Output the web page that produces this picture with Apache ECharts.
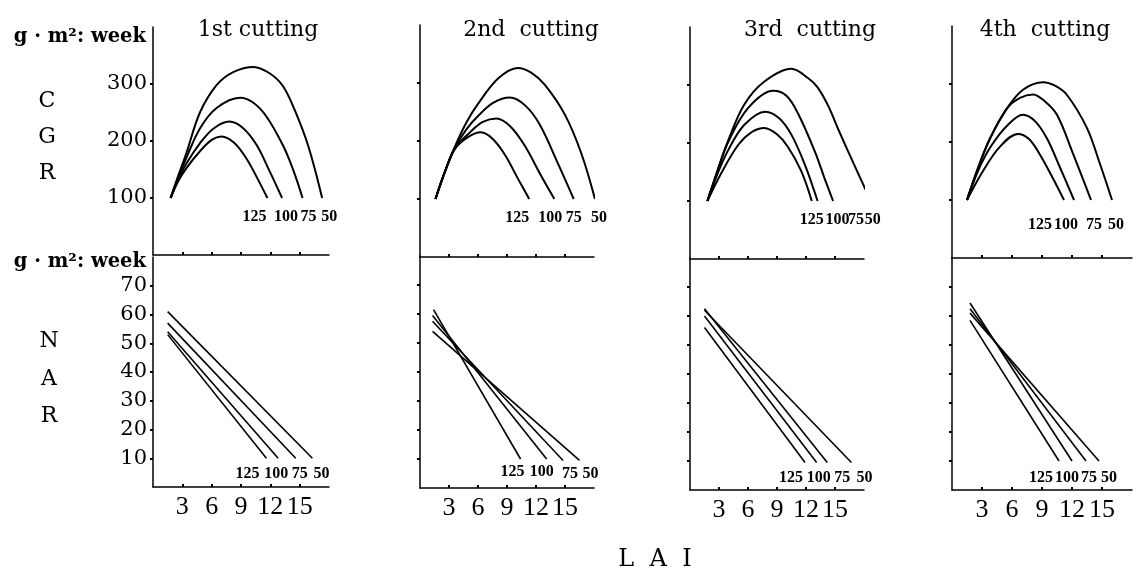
<!DOCTYPE html>
<html>
<head>
<meta charset="utf-8">
<title>CGR and NAR vs LAI</title>
<script src="https://cdn.jsdelivr.net/npm/echarts@6/dist/echarts.min.js"></script>
<style>body{margin:0;background:#fff}</style>
</head>
<body>
<div id="main" style="width:1138px;height:570px;"></div>
<script>
// nitrogen rates, order of the curves in every set below
var rates = ['125', '100', '75', '50'];
var cuttings = ['1st cutting', '2nd  cutting', '3rd  cutting', '4th  cutting'];
var laiTicks = [3, 6, 9, 12, 15];
var cgrTicks = [100, 200, 300];
var narTicks = [10, 20, 30, 40, 50, 60, 70];

// CGR curves [LAI, CGR] per cutting (125, 100, 75, 50)
var cgr1 = [
  [[1.8,100],[2.6,130],[3.4,152],[4.8,182],[6.0,202],[7.0,208],[8.3,197],[9.6,168],[10.9,127],[11.7,100]],
  [[1.8,100],[2.6,133],[3.4,160],[4.8,196],[6.2,222],[7.8,234],[9.2,223],[10.6,193],[11.9,148],[13.2,100]],
  [[1.8,100],[2.6,137],[3.4,170],[4.8,222],[6.5,258],[8.9,276],[10.2,268],[11.6,243],[13.3,192],[14.3,151],[15.3,100]],
  [[1.8,100],[2.6,140],[3.4,178],[4.8,250],[6.5,298],[8.2,321],[10.3,330],[12.0,318],[13.3,296],[14.5,254],[15.9,190],[17.3,100]]
];
var cgr2 = [
  [[1.6,100],[2.6,148],[3.6,186],[5.0,207],[6.3,215],[7.5,204],[8.8,176],[10.1,136],[11.3,100]],
  [[1.6,100],[2.6,148],[3.6,187],[5.3,217],[6.5,233],[7.9,239],[9.3,226],[10.8,193],[12.5,141],[13.9,100]],
  [[1.6,100],[2.6,148],[3.6,188],[4.8,220],[6.0,243],[7.6,266],[9.3,275],[10.9,261],[12.4,228],[14.3,160],[15.9,100]],
  [[1.6,100],[2.6,148],[3.6,190],[4.8,232],[6.0,264],[8.1,308],[10.1,326],[11.5,318],[12.9,297],[15.0,245],[16.7,178],[18.1,100]]
];
var cgr3 = [
  [[1.8,100],[3.2,147],[5.0,197],[6.4,219],[7.7,226],[9.0,215],[10.1,194],[11.5,152],[12.6,100]],
  [[1.8,100],[2.8,145],[3.9,186],[5.6,231],[7.8,254],[9.2,243],[10.5,214],[11.9,162],[13.2,100]],
  [[1.8,100],[2.8,150],[3.9,200],[6.0,260],[8.6,290],[10.0,281],[11.2,250],[12.9,186],[13.9,140],[14.8,100]],
  [[1.8,100],[2.8,150],[3.9,202],[5.6,266],[7.7,306],[10.5,328],[12.2,312],[13.2,296],[14.3,264],[15.3,225],[17.0,162],[18.7,100]]
];
var cgr4 = [
  [[1.5,100],[3.1,150],[4.8,192],[6.6,214],[7.7,205],[8.8,178],[10.1,137],[11.2,100]],
  [[1.5,100],[2.6,150],[3.8,190],[5.5,228],[7.1,247],[8.3,236],[9.5,206],[10.8,156],[12.2,100]],
  [[1.5,100],[2.6,155],[3.8,206],[5.5,258],[6.8,276],[8.1,282],[9.3,270],[10.5,247],[12.1,180],[13.9,100]],
  [[1.5,100],[2.6,155],[3.8,206],[5.5,258],[7.1,290],[9.1,303],[10.3,297],[11.5,281],[13.5,224],[14.8,162],[16.0,100]]
];

// NAR lines [LAI, NAR] per cutting (125, 100, 75, 50)
var nar1 = [
  [[1.5,53],[11.6,10]],
  [[1.5,54],[12.8,10]],
  [[1.5,57],[14.6,10]],
  [[1.5,61],[16.3,10]]
];
var nar2 = [
  [[1.4,61.5],[10.4,10]],
  [[1.3,59.5],[13.1,10]],
  [[1.3,57.5],[14.8,9.5]],
  [[1.3,54],[16.5,9.5]]
];
var nar3 = [
  [[1.5,56],[11.9,9.5]],
  [[1.5,60],[13.1,9.5]],
  [[1.5,62.5],[14.2,9.5]],
  [[1.5,62],[16.7,9.5]]
];
var nar4 = [
  [[1.8,58.5],[10.7,10]],
  [[1.8,64.5],[12.0,10]],
  [[1.8,62.5],[13.4,10]],
  [[1.8,61],[14.7,10]]
];

var cgrSets = [cgr1, cgr2, cgr3, cgr4];
var narSets = [nar1, nar2, nar3, nar4];

// layout (px)
var panels = [
  {left: 153, width: 176, cgrTop: 27, cgrH: 228, narTop: 257, narH: 230},
  {left: 420, width: 174, cgrTop: 25, cgrH: 232, narTop: 256, narH: 232},
  {left: 690, width: 174, cgrTop: 27, cgrH: 232, narTop: 258, narH: 232},
  {left: 952, width: 180, cgrTop: 26, cgrH: 232, narTop: 258, narH: 232}
];
// where the rate labels sit relative to each line end
var cgrLabelOff = [
  [[-13,19],[4,19],[6,19],[7,19]],
  [[-12,19],[-4,19],[0,19],[4,19]],
  [[0,19],[20,19],[23,19],[2,19]],
  [[-24,25],[-8,25],[3,25],[4,25]]
];
var narLabelOff = [
  [[-19,16],[-2,16],[4,16],[9,16]],
  [[-8,13],[-5,13],[7,13],[11,13]],
  [[-14,15],[2,15],[15,15],[13,15]],
  [[-18,17],[-5,17],[3,17],[10,17]]
];
var titleX = [258, 531, 810, 1045];

var black = '#000';
var serif = 'DejaVu Serif';
var axisLine = {show: true, onZero: false, lineStyle: {color: black, width: 1.5}};

var grids = [], xAxes = [], yAxes = [], series = [];

panels.forEach(function (p, i) {
  grids.push({left: p.left, top: p.cgrTop, width: p.width, height: p.cgrH});
  grids.push({left: p.left, top: p.narTop, width: p.width, height: p.narH});

  [0, 1].forEach(function (k) {
    xAxes.push({
      type: 'value', gridIndex: 2 * i + k, min: 0, max: 18,
      axisLine: axisLine, splitLine: {show: false},
      axisTick: {show: true, inside: true, length: 3, customValues: laiTicks, lineStyle: {color: black, width: 2}},
      axisLabel: {show: k === 1, customValues: laiTicks, color: black, fontFamily: 'Liberation Serif', fontSize: 26, margin: 7}
    });
  });

  yAxes.push({
    type: 'value', gridIndex: 2 * i, min: 0, max: 400,
    axisLine: axisLine, splitLine: {show: false},
    axisTick: {show: true, length: 3, customValues: cgrTicks, lineStyle: {color: black, width: 2}},
    axisLabel: {show: i === 0, customValues: cgrTicks, color: black, fontFamily: serif, fontSize: 21, margin: 6}
  });
  yAxes.push({
    type: 'value', gridIndex: 2 * i + 1, min: 0, max: 80,
    axisLine: axisLine, splitLine: {show: false},
    axisTick: {show: true, length: 3, customValues: narTicks, lineStyle: {color: black, width: 2}},
    axisLabel: {show: i === 0, customValues: narTicks, color: black, fontFamily: serif, fontSize: 21, margin: 6}
  });
});

function makeLine(pts, gi, name, off, width, smooth) {
  var data = pts.map(function (d, j) {
    if (j < pts.length - 1) return d;
    return {value: d, label: {show: true, formatter: name, offset: off}};
  });
  return {
    type: 'line', name: name, xAxisIndex: gi, yAxisIndex: gi, data: data,
    smooth: smooth, symbol: 'circle', symbolSize: 0, showSymbol: true, clip: false,
    silent: true, animation: false,
    lineStyle: {color: black, width: width},
    itemStyle: {color: black},
    label: {show: false, position: 'inside', color: black, fontFamily: 'Liberation Serif', fontWeight: 'bold', fontSize: 16},
    emphasis: {disabled: true}
  };
}

cgrSets.forEach(function (set, p) {
  set.forEach(function (pts, k) {
    series.push(makeLine(pts, 2 * p, rates[k], cgrLabelOff[p][k], 2, 0.35));
  });
});
narSets.forEach(function (set, p) {
  set.forEach(function (pts, k) {
    series.push(makeLine(pts, 2 * p + 1, rates[k], narLabelOff[p][k], 1.6, false));
  });
});

function txt(s, x, y, size, align, extra) {
  var style = {text: s, x: x, y: y, fill: black, fontFamily: serif, fontSize: size,
    textAlign: align, textVerticalAlign: 'middle'};
  for (var key in extra) style[key] = extra[key];
  return {type: 'text', style: style, silent: true};
}

var graphics = [];
cuttings.forEach(function (t, i) {
  graphics.push(txt(t, titleX[i], 30, 22, 'center'));
});
graphics.push(txt('g · m²: week', 146, 37, 19.5, 'right', {fontWeight: 'bold'}));
graphics.push(txt('g · m²: week', 146, 262, 19.5, 'right', {fontWeight: 'bold'}));
graphics.push(txt('C\nG\nR', 47, 137, 22, 'center', {lineHeight: 36}));
graphics.push(txt('N\nA\nR', 49, 379, 22, 'center', {lineHeight: 37.5}));
graphics.push(txt('L  A  I', 655, 560, 24, 'center'));

var myChart = echarts.init(document.getElementById('main'));
myChart.setOption({
  backgroundColor: '#fff',
  animation: false,
  grid: grids,
  xAxis: xAxes,
  yAxis: yAxes,
  series: series,
  graphic: graphics
});
</script>
</body>
</html>
